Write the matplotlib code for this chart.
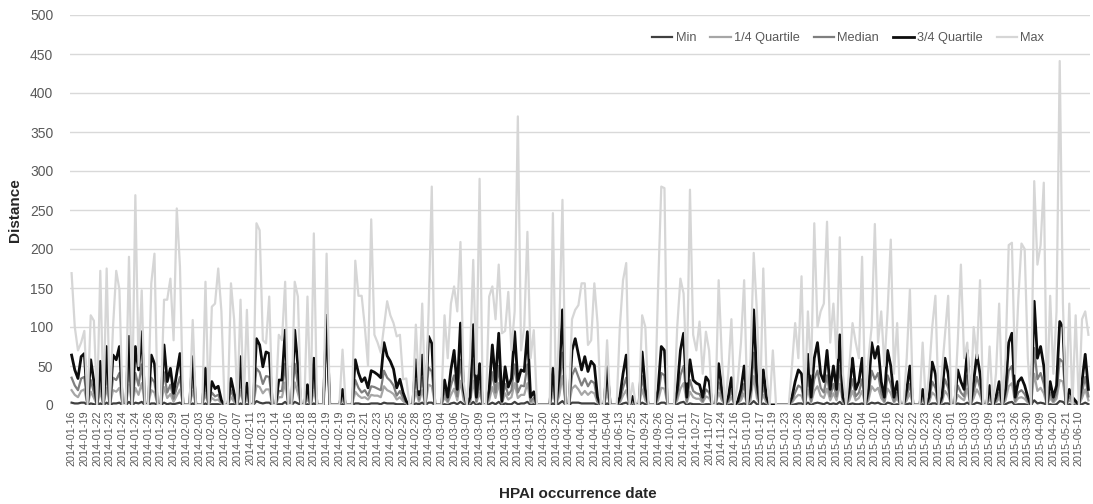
import numpy as np
import matplotlib.pyplot as plt

tick_dates = [
    '2014-01-16', '2014-01-19', '2014-01-22', '2014-01-23', '2014-01-24', '2014-01-24', '2014-01-26', '2014-01-28',
    '2014-01-29', '2014-02-01', '2014-02-03', '2014-02-06', '2014-02-07', '2014-02-07', '2014-02-11', '2014-02-13',
    '2014-02-14', '2014-02-16', '2014-02-18', '2014-02-18', '2014-02-19', '2014-02-19', '2014-02-19', '2014-02-21',
    '2014-02-23', '2014-02-25', '2014-02-26', '2014-02-28', '2014-03-03', '2014-03-04', '2014-03-06', '2014-03-07',
    '2014-03-09', '2014-03-10', '2014-03-13', '2014-03-14', '2014-03-17', '2014-03-20', '2014-03-26', '2014-04-02',
    '2014-04-08', '2014-04-18', '2014-05-04', '2014-06-13', '2014-07-25', '2014-09-24', '2014-09-26', '2014-10-02',
    '2014-10-11', '2014-10-27', '2014-11-07', '2014-11-24', '2014-12-16', '2015-01-10', '2015-01-17', '2015-01-19',
    '2015-01-23', '2015-01-26', '2015-01-28', '2015-01-28', '2015-01-29', '2015-02-02', '2015-02-04', '2015-02-10',
    '2015-02-16', '2015-02-22', '2015-02-22', '2015-02-23', '2015-02-26', '2015-03-01', '2015-03-03', '2015-03-03',
    '2015-03-09', '2015-03-13', '2015-03-26', '2015-03-30', '2015-04-09', '2015-04-20', '2015-05-21', '2015-06-10',
]

max_d = [
    169, 100, 70, 80, 95, 0, 115, 108, 0, 172, 0, 175, 0, 100, 172, 148, 0, 0, 190, 0,
    269, 50, 147, 0, 0, 156, 194, 0, 0, 135, 135, 162, 83, 252, 177, 0, 0, 0, 109, 0,
    0, 0, 158, 0, 126, 130, 175, 120, 0, 0, 156, 109, 0, 135, 0, 122, 0, 0, 233, 224,
    83, 79, 139, 0, 0, 90, 83, 158, 0, 0, 158, 139, 0, 0, 139, 0, 220, 0, 0, 0,
    194, 0, 0, 0, 0, 71, 0, 0, 0, 185, 140, 140, 100, 50, 238, 90, 80, 67, 100, 133,
    115, 105, 88, 90, 33, 34, 0, 0, 103, 20, 130, 0, 120, 280, 0, 0, 0, 115, 60, 130,
    152, 120, 209, 30, 0, 60, 186, 40, 290, 0, 0, 139, 152, 110, 180, 92, 95, 145, 70, 120,
    370, 70, 100, 222, 60, 96, 0, 0, 0, 0, 0, 246, 0, 100, 263, 0, 0, 110, 122, 128,
    156, 156, 77, 83, 156, 105, 0, 0, 83, 0, 0, 0, 100, 160, 182, 0, 28, 0, 0, 115,
    100, 0, 0, 0, 150, 280, 278, 0, 0, 0, 100, 162, 143, 30, 276, 90, 70, 107, 40, 94,
    70, 0, 0, 160, 60, 0, 40, 110, 0, 30, 80, 160, 0, 60, 195, 120, 0, 175, 40, 0,
    70, 0, 0, 0, 0, 0, 50, 105, 60, 165, 0, 120, 40, 233, 100, 120, 130, 235, 80, 130,
    60, 215, 40, 0, 50, 105, 80, 60, 190, 0, 60, 100, 232, 80, 120, 50, 120, 212, 40, 105,
    0, 0, 60, 148, 0, 0, 0, 80, 0, 40, 100, 140, 0, 40, 90, 140, 0, 0, 80, 180,
    60, 80, 0, 100, 60, 160, 0, 0, 75, 0, 40, 130, 0, 60, 205, 208, 40, 135, 207, 200,
    60, 0, 287, 180, 205, 285, 0, 140, 40, 120, 441, 130, 0, 130, 0, 115, 0, 110, 120, 90,
]

q3_d = [
    64, 45, 34, 62, 66, 0, 58, 30, 0, 56, 0, 75, 0, 64, 58, 75, 0, 0, 88, 0,
    75, 45, 94, 0, 0, 64, 53, 0, 0, 77, 30, 47, 15, 41, 66, 0, 0, 0, 62, 0,
    0, 0, 47, 0, 30, 21, 24, 6, 0, 0, 34, 15, 0, 62, 0, 28, 0, 0, 85, 77,
    49, 68, 66, 0, 0, 32, 32, 96, 0, 0, 96, 50, 0, 0, 26, 0, 60, 0, 0, 0,
    115, 0, 0, 0, 0, 20, 0, 0, 0, 58, 41, 30, 35, 22, 44, 42, 39, 35, 80, 63,
    56, 46, 22, 33, 16, 5, 0, 0, 58, 13, 64, 0, 88, 79, 0, 0, 0, 32, 10, 45,
    70, 20, 105, 20, 0, 10, 103, 10, 53, 0, 0, 20, 77, 30, 92, 5, 49, 23, 34, 94,
    30, 45, 43, 94, 10, 17, 0, 0, 0, 0, 0, 47, 0, 40, 122, 0, 0, 70, 85, 65,
    45, 62, 43, 56, 51, 10, 0, 0, 49, 0, 0, 0, 10, 40, 64, 0, 11, 0, 0, 68,
    20, 0, 0, 0, 20, 75, 70, 0, 0, 0, 20, 70, 92, 10, 58, 32, 28, 26, 10, 36,
    30, 0, 0, 53, 20, 0, 10, 35, 0, 5, 20, 50, 0, 20, 122, 30, 0, 45, 10, 0,
    0, 0, 0, 0, 0, 0, 10, 30, 45, 40, 0, 65, 10, 60, 80, 40, 30, 70, 20, 50,
    20, 90, 10, 0, 20, 60, 20, 30, 60, 0, 20, 80, 60, 75, 30, 10, 70, 50, 10, 30,
    0, 0, 20, 50, 0, 0, 0, 20, 0, 10, 55, 40, 0, 10, 60, 40, 0, 0, 45, 30,
    20, 70, 0, 30, 65, 40, 0, 0, 25, 0, 10, 30, 0, 20, 80, 92, 10, 30, 35, 25,
    10, 0, 133, 60, 75, 50, 0, 30, 10, 25, 107, 100, 0, 20, 10, 5, 0, 30, 65, 20,
]

median_d = [
    35, 25, 19, 34, 36, 0, 32, 16, 0, 30, 0, 41, 0, 35, 32, 41, 0, 0, 48, 0,
    41, 25, 52, 0, 0, 35, 29, 0, 0, 42, 16, 26, 8, 22, 36, 0, 0, 0, 34, 0,
    0, 0, 26, 0, 16, 11, 13, 3, 0, 0, 19, 8, 0, 34, 0, 15, 0, 0, 47, 42,
    27, 37, 36, 0, 0, 18, 18, 53, 0, 0, 53, 27, 0, 0, 14, 0, 33, 0, 0, 0,
    112, 0, 0, 0, 0, 11, 0, 0, 0, 32, 22, 16, 19, 12, 24, 23, 21, 19, 44, 35,
    31, 25, 12, 18, 9, 3, 0, 0, 32, 7, 35, 0, 48, 43, 0, 0, 0, 18, 5, 25,
    38, 11, 58, 11, 0, 5, 57, 5, 29, 0, 0, 11, 42, 16, 50, 3, 27, 13, 19, 52,
    16, 25, 24, 52, 5, 9, 0, 0, 0, 0, 0, 26, 0, 22, 67, 0, 0, 38, 47, 36,
    25, 34, 24, 31, 28, 5, 0, 0, 27, 0, 0, 0, 5, 22, 35, 0, 6, 0, 0, 37,
    11, 0, 0, 0, 11, 41, 38, 0, 0, 0, 11, 38, 50, 5, 32, 18, 15, 14, 5, 20,
    16, 0, 0, 29, 11, 0, 5, 19, 0, 3, 11, 27, 0, 11, 67, 16, 0, 25, 5, 0,
    0, 0, 0, 0, 0, 0, 5, 16, 25, 22, 0, 36, 5, 33, 44, 22, 16, 38, 11, 27,
    11, 50, 5, 0, 11, 33, 11, 16, 33, 0, 11, 44, 33, 41, 16, 5, 38, 27, 5, 16,
    0, 0, 11, 27, 0, 0, 0, 11, 0, 5, 30, 22, 0, 5, 33, 22, 0, 0, 25, 16,
    11, 38, 0, 16, 36, 22, 0, 0, 14, 0, 5, 16, 0, 11, 44, 50, 5, 16, 19, 14,
    5, 0, 73, 33, 41, 27, 0, 16, 5, 14, 59, 55, 0, 11, 5, 3, 0, 16, 36, 11,
]

q1_d = [
    19, 13, 10, 18, 20, 0, 17, 9, 0, 17, 0, 22, 0, 19, 17, 22, 0, 0, 26, 0,
    22, 13, 28, 0, 0, 19, 16, 0, 0, 23, 9, 14, 4, 12, 20, 0, 0, 0, 18, 0,
    0, 0, 14, 0, 9, 6, 7, 2, 0, 0, 10, 4, 0, 18, 0, 8, 0, 0, 25, 23,
    15, 20, 20, 0, 0, 10, 10, 29, 0, 0, 29, 15, 0, 0, 8, 0, 18, 0, 0, 0,
    110, 0, 0, 0, 0, 6, 0, 0, 0, 17, 12, 9, 10, 7, 13, 12, 12, 10, 24, 19,
    17, 14, 7, 10, 5, 2, 0, 0, 17, 4, 19, 0, 26, 24, 0, 0, 0, 10, 3, 13,
    21, 6, 31, 6, 0, 3, 31, 3, 16, 0, 0, 6, 23, 9, 28, 2, 15, 7, 10, 28,
    9, 13, 13, 28, 3, 5, 0, 0, 0, 0, 0, 14, 0, 12, 37, 0, 0, 21, 25, 20,
    13, 18, 13, 17, 15, 3, 0, 0, 15, 0, 0, 0, 3, 12, 19, 0, 3, 0, 0, 20,
    6, 0, 0, 0, 6, 22, 21, 0, 0, 0, 6, 21, 28, 3, 17, 10, 8, 8, 3, 11,
    9, 0, 0, 16, 6, 0, 3, 10, 0, 2, 6, 15, 0, 6, 37, 9, 0, 13, 3, 0,
    0, 0, 0, 0, 0, 0, 3, 9, 13, 12, 0, 20, 3, 18, 24, 12, 9, 21, 6, 15,
    6, 27, 3, 0, 6, 18, 6, 9, 18, 0, 6, 24, 18, 22, 9, 3, 21, 15, 3, 9,
    0, 0, 6, 15, 0, 0, 0, 6, 0, 3, 16, 12, 0, 3, 18, 12, 0, 0, 13, 9,
    6, 21, 0, 9, 20, 12, 0, 0, 8, 0, 3, 9, 0, 6, 24, 28, 3, 9, 10, 8,
    3, 0, 40, 18, 22, 15, 0, 9, 3, 8, 32, 30, 0, 6, 3, 2, 0, 9, 20, 6,
]

min_d = [
    3, 2, 2, 3, 3, 0, 2, 1, 0, 2, 0, 3, 0, 2, 2, 3, 0, 0, 4, 0,
    3, 2, 4, 0, 0, 2, 2, 0, 0, 3, 1, 2, 1, 2, 3, 0, 0, 0, 2, 0,
    0, 0, 2, 0, 1, 1, 1, 0, 0, 0, 1, 1, 0, 2, 0, 1, 0, 0, 5, 3,
    2, 3, 3, 0, 0, 1, 1, 4, 0, 0, 4, 2, 0, 0, 1, 0, 2, 0, 0, 0,
    105, 0, 0, 0, 0, 1, 0, 0, 0, 2, 2, 1, 1, 1, 2, 2, 2, 1, 3, 2,
    2, 2, 1, 1, 1, 0, 0, 0, 2, 1, 3, 0, 3, 3, 0, 0, 0, 1, 0, 2,
    3, 1, 4, 1, 0, 0, 4, 0, 2, 0, 0, 1, 3, 1, 4, 0, 2, 1, 1, 4,
    1, 2, 2, 4, 0, 1, 0, 0, 0, 0, 0, 2, 0, 2, 5, 0, 0, 3, 3, 3,
    2, 2, 2, 2, 2, 0, 0, 0, 2, 0, 0, 0, 0, 2, 3, 0, 1, 0, 0, 3,
    1, 0, 0, 0, 1, 3, 3, 0, 0, 0, 1, 3, 4, 0, 2, 1, 1, 1, 0, 1,
    1, 0, 0, 2, 1, 0, 0, 1, 0, 0, 1, 2, 0, 1, 5, 1, 0, 2, 0, 0,
    0, 0, 0, 0, 0, 0, 0, 1, 2, 2, 0, 3, 0, 2, 3, 2, 1, 3, 1, 2,
    1, 4, 0, 0, 1, 2, 1, 1, 2, 0, 1, 3, 2, 3, 1, 0, 3, 2, 0, 1,
    0, 0, 1, 2, 0, 0, 0, 1, 0, 0, 2, 2, 0, 0, 2, 2, 0, 0, 2, 1,
    1, 3, 0, 1, 3, 2, 0, 0, 1, 0, 0, 1, 0, 1, 3, 4, 0, 1, 1, 1,
    0, 0, 6, 2, 3, 2, 0, 1, 0, 1, 5, 4, 0, 1, 0, 0, 0, 1, 3, 1,
]

plt.rcParams['font.family'] = ['Liberation Sans', 'DejaVu Sans']

fig = plt.figure(figsize=(10.93, 5.04), dpi=100)
ax = fig.add_axes([70 / 1093, 1 - 405 / 504, 1020 / 1093, 390 / 504])

x = np.arange(len(max_d))
series = [
    ('Min', min_d, '#404040', 1.6),
    ('1/4 Quartile', q1_d, '#a6a6a6', 1.6),
    ('Median', median_d, '#7f7f7f', 1.6),
    ('3/4 Quartile', q3_d, '#0d0d0d', 2.0),
    ('Max', max_d, '#d6d6d6', 1.6),
]
for name, vals, col, lw in series:
    ax.plot(x, vals, color=col, lw=lw, label=name, solid_joinstyle='round')

ax.set_xlim(-0.5, len(max_d) - 0.5)
ax.set_ylim(0, 500)
ax.set_yticks(range(0, 501, 50))
ax.grid(axis='y', color='#d9d9d9', lw=1)
ax.set_axisbelow(True)
for s in ax.spines.values():
    s.set_visible(False)
ax.tick_params(axis='y', length=0, labelsize=10, labelcolor='#595959', pad=12)
ax.tick_params(axis='x', length=0, labelsize=7.8, labelcolor='#595959', pad=4)
ax.set_xticks(np.arange(len(tick_dates)) * 4)
ax.set_xticklabels(tick_dates, rotation=90)

fig.text(15 / 1093, 1 - 210 / 504, 'Distance', rotation=90, ha='center', va='center',
         fontsize=11, fontweight='bold', color='#262626')
fig.text(578 / 1093, 1 - 494 / 504, 'HPAI occurrence date', ha='center', va='center',
         fontsize=11, fontweight='bold', color='#262626')

fig.legend(loc='center', bbox_to_anchor=(848 / 1093, 1 - 38 / 504), ncol=5, frameon=False,
           fontsize=9.2, handlelength=1.6, columnspacing=1.1, handletextpad=0.25, labelcolor='#595959')

plt.savefig('out.png')
